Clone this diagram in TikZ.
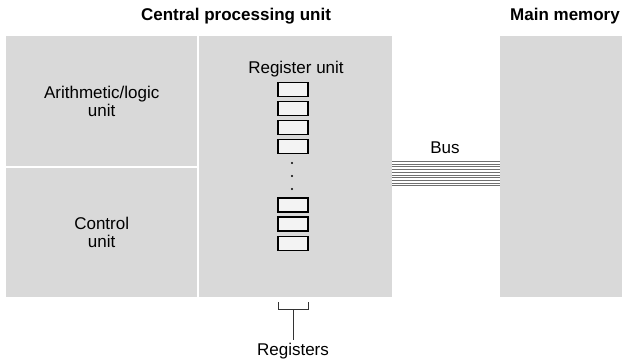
\documentclass[tikz,border=0pt]{standalone}
\usepackage{fontspec}
\setmainfont{Liberation Sans}
\usetikzlibrary{positioning}

\definecolor{panelgray}{HTML}{D9D9D9}
\definecolor{regfill}{HTML}{F3F3F3}
\definecolor{busgray}{HTML}{707070}
\newcommand{\txtfont}{\fontsize{17}{18}\selectfont}

\tikzset{
  panel/.style={fill=panelgray, inner sep=0pt, anchor=north west, align=center, font=\txtfont},
  regbox/.style={draw=black, line width=1.4pt, fill=regfill, minimum width=30pt, minimum height=14pt, inner sep=0pt},
  title/.style={font=\txtfont\bfseries, inner sep=0pt},
  lbl/.style={font=\txtfont, inner sep=0pt, align=center},
  busline/.style={busgray, line width=1pt}
}

\begin{document}
\begin{tikzpicture}[x=1pt,y=-1pt]
      \useasboundingbox (0,0) rectangle (622,360);
      % panels
      \node[panel, minimum width=191pt, minimum height=130pt] (alu) at (6,36) {Arithmetic/logic\\unit};
      \node[panel, minimum width=191pt, minimum height=129pt] (ctrl) at (6,168) {Control\\unit};
      \node[panel, minimum width=193pt, minimum height=261pt] (regunit) at (199,36) {};
      \node[panel, minimum width=122pt, minimum height=261pt] (mem) at (500,36) {};
      % titles
      \node[title] (cputitle) at (236,16) {Central processing unit};
      \node[title, anchor=east] (memtitle) at (620,16) {Main memory};
      \node[lbl] (regtitle) at (296,69) {Register unit};
      % registers
      \foreach \y/\n in {89.5/r1,108.5/r2,127.5/r3,146.5/r4,205/r5,224/r6,243.5/r7}
        \node[regbox] (\n) at (293,\y) {};
      \foreach \y/\n in {163/d1,176/d2,189/d3}
        \fill (292,\y) circle (1.1pt) coordinate (\n);
      % bus
      \node[lbl] (bus) at (445,148) {Bus};
      \foreach \y in {161.5,164.2,...,187}
        \draw[busline] (regunit.east |- 0,\y) -- (mem.west |- 0,\y);
      % bracket
      \coordinate (bl) at (278,302);
      \coordinate (br) at (308,302);
      \coordinate (bm) at (293,309);
      \node[lbl] (reglabel) at (293,351) {Registers};
      \draw[line width=0.9pt, black!80] (bl) -- (bl |- bm) -- (br |- bm) -- (br);
      \draw[line width=0.9pt, black!80] (bm) -- ([yshift=3pt]reglabel.north);
\end{tikzpicture}
\end{document}
